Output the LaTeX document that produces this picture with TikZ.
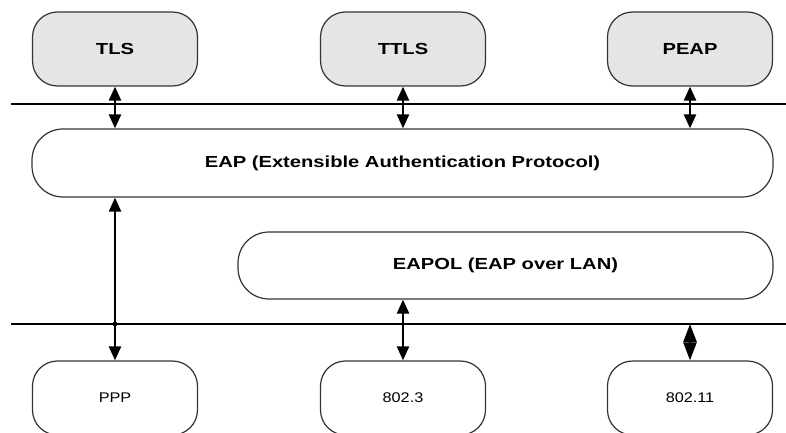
\documentclass[tikz,border=0pt]{standalone}
\usepackage{fontspec}
\setmainfont{Liberation Sans}
\usetikzlibrary{arrows.meta}
% labels are set slightly wide
\newcommand\widebold[1]{\scalebox{1.26}[1]{\bfseries #1}}
\newcommand\wideplain[1]{\scalebox{1.16}[1]{#1}}
\tikzset{
  box/.style={draw=black!80, line width=1.2pt, inner sep=0pt},
  proto/.style={box, rounded corners=25pt, fill=black!10,
    minimum width=165pt, minimum height=74pt,
    font=\fontsize{16}{18}\selectfont},
  layer/.style={box, rounded corners=31pt, fill=white,
    minimum height=68pt, font=\fontsize{16}{18}\selectfont},
  media/.style={box, rounded corners=25pt, fill=white,
    minimum width=165pt, minimum height=74pt,
    font=\fontsize{14}{16}\selectfont},
  bus/.style={line width=1.6pt},
  link/.style={line width=2.4pt,
    {Triangle[length=14pt,width=12pt]}-{Triangle[length=14pt,width=12pt]}},
  shortlink/.style={line width=2.4pt,
    {Triangle[length=18pt,width=13pt]}-{Triangle[length=18pt,width=13pt]}},
}
\begin{document}
\begin{tikzpicture}[x=1pt,y=-1pt]
\useasboundingbox (0,0) rectangle (786,433);

% method layer
\node[proto] (tls)  at (115,49)   {\widebold{TLS}};
\node[proto] (ttls) at (403,49)   {\widebold{TTLS}};
\node[proto] (peap) at (690,49)   {\widebold{PEAP}};

% EAP and EAPOL
\node[layer, minimum width=741pt] (eap) at (402.5,163)
  {\widebold{EAP (Extensible Authentication Protocol)}};
\node[layer, minimum width=535pt, minimum height=67pt] (eapol) at (505.5,265.5)
  {\widebold{EAPOL (EAP over LAN)}};

% media layer
\node[media] (ppp)    at (115,398) {\wideplain{PPP}};
\node[media] (p8023)  at (403,398) {\wideplain{802.3}};
\node[media] (p80211) at (690,398) {\wideplain{802.11}};

% layer boundaries
\coordinate (busAL) at (11,104);
\coordinate (busAR) at (786,104);
\coordinate (busBL) at (11,324);
\coordinate (busBR) at (786,324);
\draw[bus] (busAL) -- (busAR);
\draw[bus] (busBL) -- (busBR);

% interfaces
\draw[link] (tls.south)  -- (tls.south  |- eap.north);
\draw[link] (ttls.south) -- (ttls.south |- eap.north);
\draw[link] (peap.south) -- (peap.south |- eap.north);
\draw[link] (eap.south -| ppp.north) -- (ppp.north);
\fill (ppp.north |- busBL) circle (2.4pt);
\draw[link] (eapol.south -| p8023.north) -- (p8023.north);
\draw[shortlink] (p80211.north |- busBL) -- (p80211.north);
\end{tikzpicture}
\end{document}
